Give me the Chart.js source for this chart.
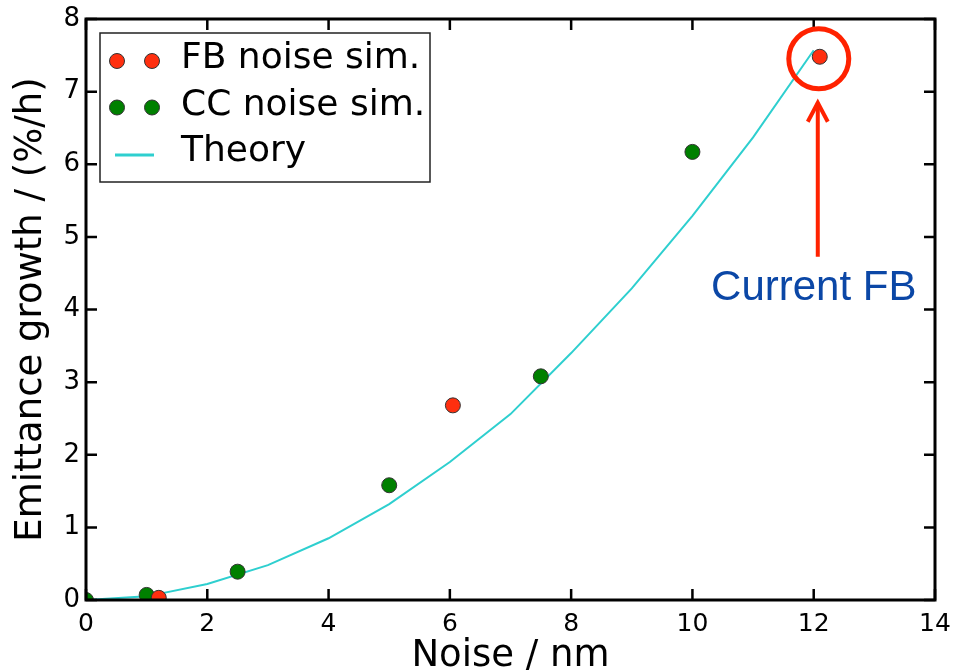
<!DOCTYPE html>
<html>
<head>
<meta charset="utf-8">
<title>Emittance growth vs noise</title>
<script src="https://cdn.jsdelivr.net/npm/chart.js@4"></script>
<style>
  html, body { margin: 0; padding: 0; background: #fff; }
  #wrap { width: 954px; height: 670px; position: relative; }
</style>
</head>
<body>
<div id="wrap"><canvas id="noiseChart"></canvas></div>
<script>
// Values
const fbNoise = [1.2, 6.05, 12.1];
const fbGrowth = [0.03, 2.68, 7.48];

const ccNoise = [0, 1, 2.5, 5, 7.5, 10];
const ccGrowth = [0, 0.07, 0.39, 1.58, 3.08, 6.17];

const theoryNoise = [0, 1, 2, 3, 4, 5, 6, 7, 8, 9, 10, 11, 12];
const theoryGrowth = [0, 0.05, 0.22, 0.48, 0.85, 1.32, 1.9, 2.56, 3.4, 4.29, 5.29, 6.37, 7.57];

const xTicks = [0, 2, 4, 6, 8, 10, 12, 14];
const yTicks = [0, 1, 2, 3, 4, 5, 6, 7, 8];

const seriesLabels = ['FB noise sim.', 'CC noise sim.', 'Theory'];
const currentLabel = 'Current FB';

const RED = '#ff2f0f';
const GREEN = '#008000';
const CYAN = '#2ecfcf';
const FONT = '"DejaVu Sans", sans-serif';

const toPoints = (xs, ys) => xs.map((x, i) => ({ x: x, y: ys[i] }));

// matplotlib style frame with inward ticks on every side
const framePlugin = {
    id: 'frame',
    afterDatasetsDraw(chart) {
        const { ctx, chartArea: a, scales } = chart;
        const len = 11;
        ctx.save();
        ctx.strokeStyle = '#000';
        ctx.lineWidth = 2.5;
        ctx.beginPath();
        scales.x.ticks.forEach(t => {
            const px = scales.x.getPixelForValue(t.value);
            ctx.moveTo(px, a.bottom); ctx.lineTo(px, a.bottom - len);
            ctx.moveTo(px, a.top); ctx.lineTo(px, a.top + len);
        });
        scales.y.ticks.forEach(t => {
            const py = scales.y.getPixelForValue(t.value);
            ctx.moveTo(a.left, py); ctx.lineTo(a.left + len, py);
            ctx.moveTo(a.right, py); ctx.lineTo(a.right - len, py);
        });
        ctx.stroke();
        ctx.lineWidth = 3;
        ctx.strokeRect(a.left, a.top, a.right - a.left, a.bottom - a.top);
        ctx.restore();
    }
};

// legend box in the upper left corner, two markers per scatter entry
const legendPlugin = {
    id: 'mplLegend',
    afterDraw(chart) {
        const { ctx, chartArea: a } = chart;
        const bx = a.left + 14, by = a.top + 14;
        ctx.save();
        ctx.fillStyle = '#fff';
        ctx.fillRect(bx, by, 330, 149);
        ctx.strokeStyle = '#222';
        ctx.lineWidth = 1.5;
        ctx.strokeRect(bx, by, 330, 149);

        const colors = [RED, GREEN];
        ctx.font = '36px ' + FONT;
        ctx.textBaseline = 'alphabetic';
        ctx.textAlign = 'left';
        seriesLabels.forEach((lbl, i) => {
            const rowY = by + 28 + i * 46.5;
            if (i < 2) {
                [bx + 17, bx + 52].forEach(mx => {
                    ctx.beginPath();
                    ctx.arc(mx, rowY, 7.5, 0, Math.PI * 2);
                    ctx.fillStyle = colors[i];
                    ctx.fill();
                    ctx.lineWidth = 1;
                    ctx.strokeStyle = '#333';
                    ctx.stroke();
                });
            } else {
                ctx.beginPath();
                ctx.moveTo(bx + 15, rowY + 1);
                ctx.lineTo(bx + 54, rowY + 1);
                ctx.strokeStyle = CYAN;
                ctx.lineWidth = 3;
                ctx.stroke();
            }
            ctx.fillStyle = '#000';
            ctx.fillText(lbl, bx + 81, rowY + 7);
        });
        ctx.restore();
    }
};

// red circle + arrow pointing at the current FB point
const annotatePlugin = {
    id: 'currentFB',
    afterDraw(chart) {
        const { ctx, scales } = chart;
        const last = fbNoise.length - 1;
        const px = scales.x.getPixelForValue(fbNoise[last]);
        const py = scales.y.getPixelForValue(fbGrowth[last]);
        ctx.save();
        ctx.strokeStyle = '#ff2200';
        ctx.lineWidth = 5;
        ctx.beginPath();
        ctx.arc(px - 1, py + 2, 30, 0, Math.PI * 2);
        ctx.stroke();

        const ax = px - 2;
        ctx.lineWidth = 4;
        ctx.beginPath();
        ctx.moveTo(ax, py + 200);
        ctx.lineTo(ax, py + 46);
        ctx.stroke();
        ctx.beginPath();
        ctx.moveTo(ax - 10, py + 65);
        ctx.lineTo(ax, py + 46);
        ctx.lineTo(ax + 10, py + 65);
        ctx.stroke();

        ctx.fillStyle = '#0b47a6';
        ctx.font = '42px "Liberation Sans", Arial, sans-serif';
        ctx.textAlign = 'center';
        ctx.textBaseline = 'alphabetic';
        ctx.fillText(currentLabel, px - 6, py + 243);
        ctx.restore();
    }
};

const renderChart = () => {
    const ctx = document.getElementById('noiseChart').getContext('2d');

    new Chart(ctx, {
        type: 'scatter',
        data: {
            datasets: [{
                label: seriesLabels[0],
                data: toPoints(fbNoise, fbGrowth),
                backgroundColor: RED,
                borderColor: '#333',
                borderWidth: 1,
                pointRadius: 7.5,
                clip: 0,
            }, {
                label: seriesLabels[1],
                data: toPoints(ccNoise, ccGrowth),
                backgroundColor: GREEN,
                borderColor: '#333',
                borderWidth: 1,
                pointRadius: 7.5,
                clip: 0,
            }, {
                label: seriesLabels[2],
                data: toPoints(theoryNoise, theoryGrowth),
                showLine: true,
                borderColor: CYAN,
                borderWidth: 2,
                pointRadius: 0,
                tension: 0,
                clip: 0,
            }],
        },
        options: {
            responsive: true,
            maintainAspectRatio: false,
            animation: false,
            layout: { padding: { left: 0, right: 19, top: 19, bottom: 0 } },
            plugins: {
                legend: { display: false },
                tooltip: { enabled: false },
            },
            scales: {
                x: {
                    type: 'linear',
                    min: 0,
                    max: 14,
                    afterBuildTicks: s => { s.ticks = xTicks.map(v => ({ value: v })); },
                    afterFit: s => { s.height = 70; s.paddingLeft = 0; s.paddingRight = 0; },
                    grid: { display: false, drawTicks: false },
                    border: { display: false },
                    ticks: { color: '#000', padding: 9, font: { family: FONT, size: 25 } },
                    title: {
                        display: true,
                        text: 'Noise / nm',
                        color: '#000',
                        padding: 0,
                        font: { family: FONT, size: 37, lineHeight: 0.72 },
                    },
                },
                y: {
                    type: 'linear',
                    min: 0,
                    max: 8,
                    afterBuildTicks: s => { s.ticks = yTicks.map(v => ({ value: v })); },
                    afterFit: s => { s.width = 86; s.paddingTop = 0; s.paddingBottom = 0; },
                    grid: { display: false, drawTicks: false },
                    border: { display: false },
                    ticks: { color: '#000', padding: 6, font: { family: FONT, size: 26 } },
                    title: {
                        display: true,
                        text: 'Emittance growth / (%/h)',
                        color: '#000',
                        padding: { top: 13, bottom: 0 },
                        font: { family: FONT, size: 37, lineHeight: 1 },
                    },
                },
            },
        },
        plugins: [framePlugin, legendPlugin, annotatePlugin],
    });
};

document.addEventListener('DOMContentLoaded', renderChart);
</script>
</body>
</html>
